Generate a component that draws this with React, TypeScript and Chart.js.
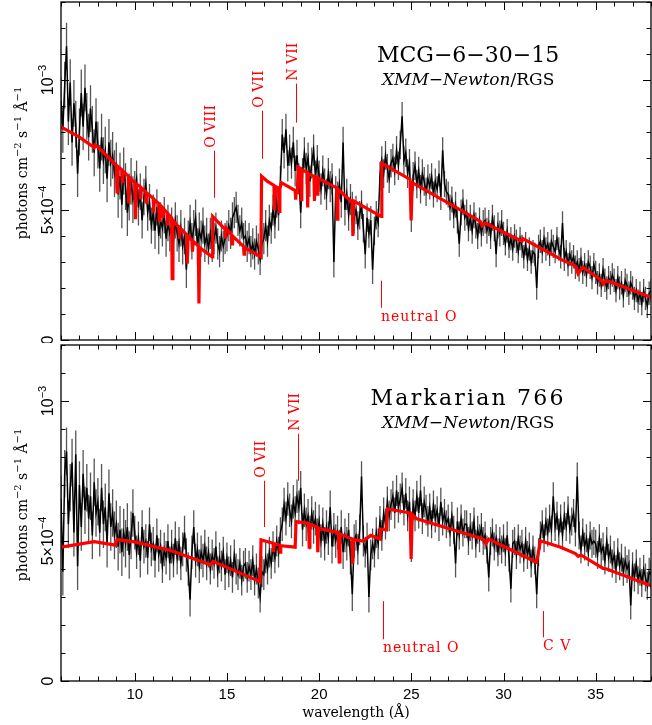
import React, { useEffect, useRef } from 'react';
import { Chart, registerables } from 'chart.js';

Chart.register(...registerables);

// ---------- data (flux in units of 10^-4 photons cm^-2 s^-1 Å^-1) ----------
const WAVE_START = 6.0;
const WAVE_STEP = 0.1;
const X_MIN = 6;
const X_MAX = 38;
const X_LABEL_VALUES = [10, 15, 20, 25, 30, 35];
const Y_LABEL_VALUES = [0, 5, 10];

// MCG-6-30-15 observed spectrum, 0.1 Å bins from 6.0 Å
const mcgFlux = [
  9.2, 8.1, 9.8, 11.3, 8.4, 9.9, 7.6, 9.1, 8.3, 6.4,
  8.0, 9.5, 8.2, 9.7, 8.6, 7.8, 8.9, 8.1, 7.2, 8.4,
  7.5, 6.6, 7.8, 6.9, 7.3, 6.2, 7.6, 6.8, 7.1, 6.4,
  6.7, 5.6, 6.3, 5.2, 6.5, 5.9, 4.9, 5.5, 6.1, 5.4,
  5.8, 6.2, 5.1, 5.7, 4.6, 5.5, 6.0, 4.9, 5.3, 4.4,
  4.9, 4.2, 5.1, 4.0, 4.6, 4.3, 4.8, 3.9, 4.5, 4.1,
  4.4, 3.8, 4.6, 4.1, 3.7, 4.3, 3.6, 4.0, 2.7, 3.9,
  4.5, 3.8, 4.3, 4.7, 3.6, 4.2, 3.9, 4.4, 3.7, 4.0,
  3.5, 4.1, 3.6, 3.9, 4.3, 3.7, 3.4, 4.0, 3.6, 3.9,
  4.0, 4.4, 4.1, 4.7, 4.9, 5.1, 4.6, 4.2, 4.5, 3.9,
  4.0, 3.6, 3.9, 3.4, 3.7, 3.3, 3.8, 3.5, 3.1, 3.7,
  3.9, 4.4, 3.8, 4.6, 4.3, 5.0, 4.5, 5.3, 4.8, 6.1,
  7.9, 7.2, 8.1, 6.7, 7.3, 6.8, 7.6, 6.5, 7.1, 6.2,
  4.9, 6.4, 7.2, 6.6, 7.0, 6.1, 6.8, 7.3, 6.3, 6.9,
  6.3, 5.8, 6.5, 6.0, 5.6, 6.4, 5.9, 6.2, 3.0, 5.7,
  5.5, 6.0, 5.3, 7.6, 5.0, 5.6, 4.8, 5.4, 5.1, 4.7,
  5.0, 4.4, 4.8, 5.2, 4.3, 3.3, 4.7, 4.1, 4.6, 2.7,
  4.2, 4.8, 4.5, 6.3, 6.9, 6.4, 7.1, 6.6, 6.2, 6.8,
  7.0, 6.5, 7.3, 6.7, 7.5, 8.6, 6.9, 7.2, 6.4, 6.8,
  4.7, 6.3, 6.7, 6.0, 6.5, 5.8, 6.4, 6.1, 5.7, 6.2,
  5.9, 6.3, 5.6, 6.1, 5.8, 6.4, 5.5, 7.3, 6.0, 5.7,
  5.6, 5.1, 5.4, 4.8, 5.2, 4.6, 3.7, 4.9, 5.3, 4.7,
  4.9, 4.3, 4.7, 4.2, 4.8, 4.4, 4.0, 4.6, 4.1, 4.5,
  4.6, 4.2, 4.5, 4.0, 4.7, 4.3, 3.3, 4.4, 4.1, 4.5,
  4.1, 3.7, 4.2, 3.6, 3.9, 3.5, 4.0, 3.8, 3.4, 3.9,
  3.6, 3.2, 3.7, 3.1, 3.5, 3.0, 3.4, 3.3, 2.0, 3.6,
  3.8, 3.4, 3.9, 3.5, 3.7, 3.3, 3.8, 3.6, 3.4, 3.9,
  3.5, 3.2, 4.5, 3.1, 3.4, 2.9, 3.3, 3.0, 3.2, 2.8,
  3.0, 2.7, 3.1, 2.6, 2.9, 2.5, 3.0, 2.8, 2.4, 2.9,
  2.6, 2.2, 2.5, 2.1, 2.7, 2.3, 2.0, 2.4, 2.2, 2.5,
  2.3, 1.9, 2.4, 2.0, 2.2, 1.7, 2.3, 2.1, 1.8, 2.2,
  2.0, 1.6, 1.9, 1.5, 1.8, 1.4, 1.9, 1.6, 1.3, 1.8,
  1.9,
];
// 1-sigma half widths, one value per 4 Å band starting at 6 Å
const mcgErr = [0.9, 0.7, 0.6, 0.6, 0.55, 0.5, 0.45, 0.45];
// model [wavelength, flux]
const mcgModel = [
  [6.0, 8.2], [7.0, 7.8], [7.8, 7.4], [7.85, 7.5], [8.0, 7.42], [9.0, 6.72],
  [9.04, 5.7], [9.08, 6.68], [9.3, 6.55], [9.33, 6.1], [9.36, 6.5], [9.65, 6.3],
  [9.68, 5.25], [9.72, 6.25], [10.0, 6.05], [10.04, 4.65], [10.08, 6.0], [10.3, 5.9],
  [10.33, 5.4], [10.36, 5.85], [10.6, 5.7], [10.63, 5.3], [10.66, 5.65], [11.0, 5.45],
  [11.03, 4.9], [11.06, 5.4], [11.3, 5.25], [11.33, 4.6], [11.36, 5.2], [11.5, 5.1],
  [11.53, 4.7], [11.56, 5.05], [11.75, 4.9], [11.78, 4.4], [11.81, 4.85], [12.0, 4.7],
  [12.03, 2.36], [12.07, 4.6], [12.4, 4.33], [12.43, 3.9], [12.46, 4.3], [12.82, 4.05],
  [12.85, 2.93], [12.89, 4.0], [13.1, 3.85], [13.13, 3.4], [13.16, 3.8], [13.45, 3.62],
  [13.48, 1.4], [13.52, 3.55], [14.2, 3.2], [14.23, 4.75], [14.9, 4.25], [14.93, 3.9],
  [14.96, 4.3], [15.25, 4.05], [15.28, 3.7], [15.31, 4.0], [15.9, 3.6], [15.93, 3.3],
  [15.96, 3.55], [16.84, 3.2], [16.88, 6.3], [17.2, 6.1], [17.55, 5.95], [17.58, 5.0],
  [17.62, 5.9], [17.8, 5.85], [17.83, 4.95], [17.87, 5.8], [17.95, 6.05], [18.7, 5.75],
  [18.73, 5.4], [18.76, 5.72], [18.82, 5.7], [18.86, 6.65], [19.0, 6.6], [19.03, 5.4],
  [19.06, 6.55], [19.35, 6.45], [19.38, 5.1], [19.41, 6.4], [19.72, 6.3], [19.75, 5.35],
  [19.78, 6.28], [19.9, 6.25], [19.93, 5.55], [19.96, 6.22], [20.95, 5.85], [20.98, 4.65],
  [21.02, 5.8], [21.8, 5.3], [21.83, 4.0], [21.87, 5.35], [23.36, 4.75], [23.4, 6.8],
  [24.93, 6.18], [24.99, 4.6], [25.05, 6.05], [27.3, 5.15], [28.7, 4.58], [28.85, 4.4],
  [29.0, 4.5], [31.0, 3.8], [31.05, 3.9], [33.2, 3.07], [33.9, 2.85], [34.05, 2.55],
  [34.3, 2.8], [35.3, 2.3], [35.4, 2.15], [35.55, 2.3], [38.0, 1.64],
];
const mcgLineLabels = ['O VIII', 'O VII', 'N VII', 'neutral O'];
const mcgLineWave = [14.3, 16.89, 18.74, 23.36];
const mcgLineLow = [5.47, 6.97, 8.36, 1.24];
const mcgLineHigh = [7.28, 8.82, 9.86, 2.28];
const mcgLineVertical = [true, true, true, false];

// Markarian 766 observed spectrum, 0.1 Å bins from 6.0 Å
const mrkFlux = [
  6.5, 3.9, 7.4, 8.2, 5.6, 6.9, 7.8, 5.3, 8.1, 4.1,
  7.0, 5.5, 7.4, 6.1, 6.9, 5.8, 6.6, 5.2, 7.1, 6.0,
  6.4, 5.3, 6.9, 5.6, 6.2, 4.9, 6.7, 5.5, 6.0, 5.2,
  5.6, 4.8, 5.4, 4.6, 5.3, 4.9, 5.5, 4.5, 5.2, 6.0,
  5.3, 4.6, 5.1, 4.3, 5.5, 4.8, 5.0, 4.4, 5.6, 4.7,
  4.9, 4.3, 5.2, 4.5, 4.8, 4.1, 4.7, 4.4, 5.0, 4.2,
  4.8, 4.3, 5.1, 4.4, 4.9, 4.2, 4.7, 5.3, 4.5, 4.0,
  2.9, 4.6, 5.5, 4.3, 4.7, 4.1, 4.6, 4.3, 4.8, 4.2,
  4.6, 4.0, 4.5, 4.2, 4.8, 3.9, 4.4, 4.1, 4.6, 3.8,
  4.4, 3.9, 4.3, 3.7, 4.5, 4.0, 3.8, 4.2, 3.6, 4.1,
  4.2, 3.7, 4.1, 3.8, 4.3, 3.6, 4.0, 3.5, 3.0, 3.9,
  3.8, 4.4, 4.0, 4.6, 4.2, 4.8, 4.4, 5.0, 4.6, 5.3,
  5.6, 6.3, 5.8, 6.5, 6.1, 5.7, 6.4, 6.0, 6.6, 6.2,
  6.9, 5.4, 6.1, 5.6, 5.9, 5.3, 6.0, 5.5, 5.8, 5.2,
  5.7, 5.0, 5.6, 4.9, 5.5, 5.1, 6.2, 4.8, 5.4, 5.0,
  5.3, 4.8, 5.5, 4.6, 5.2, 4.9, 5.4, 4.4, 3.1, 5.0,
  5.2, 4.7, 5.4, 7.3, 5.0, 4.6, 5.1, 3.0, 4.5, 4.9,
  4.6, 5.3, 4.9, 5.7, 5.2, 6.0, 5.6, 6.4, 5.9, 6.3,
  6.6, 6.0, 6.8, 6.2, 6.5, 6.9, 6.1, 6.7, 5.9, 6.4,
  4.8, 6.3, 5.9, 6.6, 6.0, 6.8, 5.8, 6.4, 6.1, 5.7,
  6.2, 5.6, 6.3, 5.8, 6.1, 5.5, 6.4, 5.7, 6.0, 5.6,
  5.8, 5.3, 5.9, 5.4, 4.2, 5.7, 5.2, 5.8, 5.3, 5.6,
  5.6, 5.0, 5.5, 5.2, 5.7, 4.9, 5.4, 5.1, 5.5, 5.0,
  5.2, 4.7, 3.7, 5.0, 5.3, 4.8, 5.1, 4.6, 5.0, 4.7,
  5.1, 4.6, 5.2, 4.4, 3.3, 4.9, 5.0, 4.5, 5.1, 4.7,
  4.9, 4.4, 5.0, 4.5, 4.8, 4.2, 4.7, 4.3, 3.1, 4.6,
  5.2, 5.6, 5.1, 5.7, 5.3, 5.8, 5.4, 6.6, 5.5, 5.9,
  5.3, 5.8, 5.2, 5.9, 5.5, 6.1, 5.4, 5.7, 6.0, 5.3,
  7.3, 5.2, 4.7, 5.3, 4.8, 5.1, 4.6, 5.2, 4.9, 5.0,
  4.9, 4.5, 5.1, 4.6, 4.8, 4.3, 5.0, 4.4, 4.7, 4.2,
  4.5, 4.0, 4.6, 4.1, 4.4, 3.9, 4.3, 4.0, 4.2, 2.7,
  4.1, 3.7, 4.2, 3.6, 3.9, 3.5, 4.0, 3.7, 3.4, 3.9,
  3.8,
];
const mrkErr = [0.85, 0.6, 0.55, 0.6, 0.55, 0.5, 0.5, 0.5];
const mrkModel = [
  [6.0, 4.78], [7.8, 4.98], [8.95, 4.85], [9.05, 5.05], [10.0, 4.97], [12.0, 4.65],
  [14.1, 4.15], [14.25, 4.28], [14.5, 4.2], [16.8, 3.55], [16.85, 5.04], [17.5, 4.92],
  [17.53, 4.6], [17.56, 4.9], [17.86, 4.85], [17.89, 4.6], [17.92, 4.83], [18.7, 4.78],
  [18.75, 5.69], [19.43, 5.63], [19.46, 4.78], [19.5, 5.6], [19.9, 5.5], [19.93, 4.6],
  [19.97, 5.45], [21.05, 5.3], [21.09, 4.25], [21.13, 5.25], [21.78, 5.08], [21.82, 4.18],
  [21.86, 5.05], [22.4, 5.0], [22.8, 5.2], [23.3, 5.07], [23.33, 5.43], [23.65, 5.4],
  [23.7, 6.15], [24.93, 6.0], [24.99, 4.36], [25.05, 5.95], [25.3, 5.79], [28.9, 5.07],
  [29.05, 4.9], [29.2, 5.07], [31.8, 4.24], [32.0, 5.01], [33.1, 4.78], [33.9, 4.55],
  [34.05, 4.45], [34.2, 4.5], [35.4, 4.02], [35.6, 4.0], [38.0, 3.4],
];
const mrkLineLabels = ['O VII', 'N VII', 'neutral O', 'C V'];
const mrkLineWave = [17.02, 18.85, 23.45, 32.15];
const mrkLineLow = [5.5, 7.15, 1.49, 1.56];
const mrkLineHigh = [7.15, 8.83, 2.85, 2.5];
const mrkLineVertical = [true, true, false, false];

// ---------- drawing helpers ----------
type Part = { t: string; sup?: boolean; italic?: boolean };

function drawParts(
  ctx: CanvasRenderingContext2D,
  parts: Part[],
  x: number,
  y: number,
  o: { size: number; family: string; align: 'left' | 'center' | 'right'; rotate?: boolean; color?: string; spacing?: number; supSize?: number }
) {
  ctx.save();
  ctx.translate(x, y);
  if (o.rotate) ctx.rotate(-Math.PI / 2);
  ctx.fillStyle = o.color || '#000';
  ctx.textBaseline = 'alphabetic';
  ctx.textAlign = 'left';
  (ctx as any).letterSpacing = (o.spacing || 0) + 'px';
  const supSize = o.supSize || Math.round(o.size * 0.7);
  const fonts = parts.map((p) => `${p.italic ? 'italic ' : ''}${p.sup ? supSize : o.size}px ${o.family}`);
  const widths = parts.map((p, i) => {
    ctx.font = fonts[i];
    return ctx.measureText(p.t).width;
  });
  const total = widths.reduce((a, b) => a + b, 0);
  let cx = o.align === 'left' ? 0 : o.align === 'center' ? -total / 2 : -total;
  parts.forEach((p, i) => {
    ctx.font = fonts[i];
    ctx.fillText(p.t, cx, p.sup ? -o.size * 0.45 : 0);
    cx += widths[i];
  });
  ctx.restore();
}

const SERIF = '"DejaVu Serif", serif';
const SANS = '"Liberation Sans", Arial, sans-serif';

const Y_LABEL_PARTS: Part[][] = [
  [{ t: '0' }],
  [{ t: '5×10' }, { t: '−4', sup: true }],
  [{ t: '10' }, { t: '−3', sup: true }],
];
const Y_TITLE_PARTS: Part[] = [
  { t: 'photons cm' }, { t: '−2', sup: true }, { t: ' s' }, { t: '−1', sup: true }, { t: ' Å' }, { t: '−1', sup: true },
];

type Panel = {
  flux: number[];
  err: number[];
  model: number[][];
  yMax: number;
  title: string;
  titleSpacing: number;
  lineLabels: string[];
  lineWave: number[];
  lineLow: number[];
  lineHigh: number[];
  lineVertical: boolean[];
  showX: boolean;
  padTop: number;
  padBottom: number;
  canvasHeight: number;
};

const panels: Panel[] = [
  {
    flux: mcgFlux, err: mcgErr, model: mcgModel, yMax: 13, title: 'MCG−6−30−15', titleSpacing: 0,
    lineLabels: mcgLineLabels, lineWave: mcgLineWave, lineLow: mcgLineLow, lineHigh: mcgLineHigh,
    lineVertical: mcgLineVertical, showX: false, padTop: 2, padBottom: 3, canvasHeight: 343,
  },
  {
    flux: mrkFlux, err: mrkErr, model: mrkModel, yMax: 12, title: 'Markarian 766', titleSpacing: 2.2,
    lineLabels: mrkLineLabels, lineWave: mrkLineWave, lineLow: mrkLineLow, lineHigh: mrkLineHigh,
    lineVertical: mrkLineVertical, showX: true, padTop: 2, padBottom: 44, canvasHeight: 382,
  },
];

function makeChart(canvas: HTMLCanvasElement, p: Panel) {
  const pts = p.flux.map((v, i) => ({ x: Math.round((WAVE_START + i * WAVE_STEP) * 100) / 100, y: v }));
  const errPts: { x: number; y: number | null }[] = [];
  pts.forEach((pt) => {
    const e = p.err[Math.min(p.err.length - 1, Math.floor((pt.x - X_MIN) / 4))];
    errPts.push({ x: pt.x, y: pt.y - e }, { x: pt.x, y: pt.y + e }, { x: pt.x, y: null });
  });

  const decor = {
    id: 'decor',
    afterDatasetsDraw(chart: any) {
      const ctx: CanvasRenderingContext2D = chart.ctx;
      const a = chart.chartArea;
      const xs = chart.scales.x;
      const ys = chart.scales.y;
      ctx.save();
      // frame
      ctx.strokeStyle = '#000';
      ctx.lineWidth = 1.3;
      ctx.strokeRect(a.left, a.top, a.right - a.left, a.bottom - a.top);
      // ticks
      ctx.lineWidth = 1;
      ctx.beginPath();
      for (let v = X_MIN; v <= X_MAX; v += 1) {
        const px = Math.round(xs.getPixelForValue(v)) + 0.5;
        const len = v % 5 === 0 ? 8 : 4.5;
        ctx.moveTo(px, a.bottom); ctx.lineTo(px, a.bottom - len);
        ctx.moveTo(px, a.top); ctx.lineTo(px, a.top + len);
      }
      for (let v = 0; v <= p.yMax; v += 1) {
        const py = Math.round(ys.getPixelForValue(v)) + 0.5;
        const len = v % 5 === 0 ? 8 : 4.5;
        ctx.moveTo(a.left, py); ctx.lineTo(a.left + len, py);
        ctx.moveTo(a.right, py); ctx.lineTo(a.right - len, py);
      }
      ctx.stroke();

      // y tick labels (rotated)
      Y_LABEL_VALUES.forEach((v, i) => {
        drawParts(ctx, Y_LABEL_PARTS[i], a.left - 8, ys.getPixelForValue(v), {
          size: 16, supSize: 11, family: SANS, align: 'center', rotate: true,
        });
      });
      // y title
      drawParts(ctx, Y_TITLE_PARTS, 27, (a.top + a.bottom) / 2 - 8, {
        size: 14, supSize: 10, family: SERIF, align: 'center', rotate: true,
      });

      // x labels
      if (p.showX) {
        X_LABEL_VALUES.forEach((v) => {
          drawParts(ctx, [{ t: String(v) }], xs.getPixelForValue(v), a.bottom + 18, {
            size: 15, family: SANS, align: 'center',
          });
        });
        drawParts(ctx, [{ t: 'wavelength (Å)' }], (a.left + a.right) / 2, a.bottom + 36, {
          size: 14, family: SERIF, align: 'center',
        });
      }

      // titles
      const tx = a.left + (a.right - a.left) * 0.69;
      drawParts(ctx, [{ t: p.title }], tx, a.top + 60, {
        size: 22, family: SERIF, align: 'center', spacing: p.titleSpacing,
      });
      drawParts(ctx, [{ t: 'XMM−Newton', italic: true }, { t: '/RGS' }], tx, a.top + 83, {
        size: 17, family: SERIF, align: 'center',
      });

      // feature markers
      ctx.strokeStyle = '#ff0000';
      ctx.lineWidth = 1;
      p.lineLabels.forEach((lab, i) => {
        const px = Math.round(xs.getPixelForValue(p.lineWave[i])) + 0.5;
        const y0 = ys.getPixelForValue(p.lineLow[i]);
        const y1 = ys.getPixelForValue(p.lineHigh[i]);
        ctx.beginPath();
        ctx.moveTo(px, y0);
        ctx.lineTo(px, y1);
        ctx.stroke();
        if (p.lineVertical[i]) {
          drawParts(ctx, [{ t: lab }], px + 0.5, y1 - 3, {
            size: 14, family: SERIF, align: 'left', rotate: true, color: '#ff0000',
          });
        } else {
          drawParts(ctx, [{ t: lab }], px - 0.5, y0 + 13, {
            size: 14, family: SERIF, align: 'left', color: '#ff0000', spacing: 1,
          });
        }
      });
      ctx.restore();
    },
  };

  return new Chart(canvas, {
    type: 'scatter',
    data: {
      datasets: [
        {
          data: p.model.map(([x, y]) => ({ x, y })),
          showLine: true, borderColor: '#ff0000', borderWidth: 3.2, pointRadius: 0, tension: 0,
        } as any,
        {
          data: pts,
          showLine: true, borderColor: '#000000', borderWidth: 1.5, pointRadius: 0, tension: 0,
        },
        {
          data: errPts,
          showLine: true, borderColor: '#555555', borderWidth: 1.3, pointRadius: 0, spanGaps: false,
        },
      ],
    },
    options: {
      animation: false,
      responsive: false,
      events: [],
      layout: { padding: { left: 61, right: 1, top: p.padTop, bottom: p.padBottom } },
      plugins: { legend: { display: false }, tooltip: { enabled: false } },
      scales: {
        x: { type: 'linear', min: X_MIN, max: X_MAX, display: false },
        y: { type: 'linear', min: 0, max: p.yMax, display: false },
      },
    },
    plugins: [decor],
  });
}

export default function App() {
  const topRef = useRef<HTMLCanvasElement>(null);
  const botRef = useRef<HTMLCanvasElement>(null);

  useEffect(() => {
    const charts: Chart[] = [];
    if (topRef.current) charts.push(makeChart(topRef.current, panels[0]));
    if (botRef.current) charts.push(makeChart(botRef.current, panels[1]));
    return () => charts.forEach((c) => c.destroy());
  }, []);

  return (
    <div style={{ position: 'absolute', left: 0, top: 0, width: 652, height: 725, background: '#fff' }}>
      <canvas ref={topRef} width={652} height={343} style={{ position: 'absolute', left: 0, top: 0, width: 652, height: 343 }} />
      <canvas ref={botRef} width={652} height={382} style={{ position: 'absolute', left: 0, top: 343, width: 652, height: 382 }} />
    </div>
  );
}
